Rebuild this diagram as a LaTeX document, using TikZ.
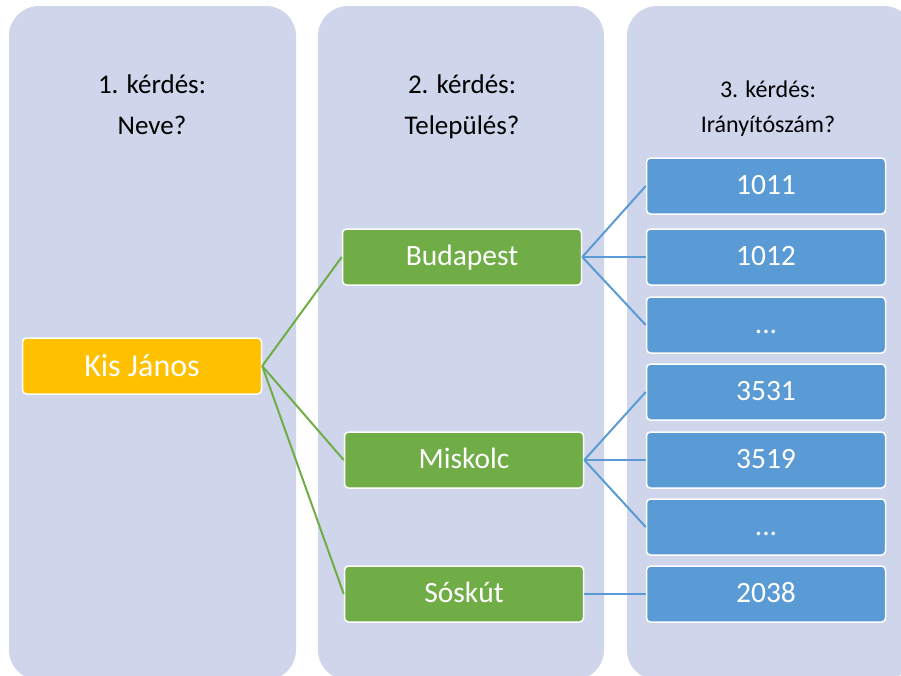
\documentclass[tikz,border=0pt]{standalone}
\usepackage{fontspec}
\setmainfont{Carlito}
\definecolor{colbg}{RGB}{207,213,234}
\definecolor{namecol}{RGB}{255,192,0}
\definecolor{citycol}{RGB}{112,173,71}
\definecolor{zipcol}{RGB}{91,155,213}

\begin{document}
\begin{tikzpicture}[x=1pt,y=-1pt,
  column/.style={fill=colbg,rounded corners=30pt},
  question/.style={anchor=base,inner sep=0pt,font=\fontsize{27}{32}\selectfont},
  smallquestion/.style={question,font=\fontsize{24}{28}\selectfont},
  box/.style={draw=white,line width=1.5pt,rounded corners=4pt,minimum width=239pt,minimum height=56pt,
    text=white,text height=20pt,text depth=4pt,font=\fontsize{29.5}{34}\selectfont},
  personbox/.style={box,fill=namecol,text height=24pt,font=\fontsize{32}{36}\selectfont},
  citybox/.style={box,fill=citycol},
  zipbox/.style={box,fill=zipcol},
  tocity/.style={citycol,line width=2pt},
  tozip/.style={zipcol,line width=2pt}]
\useasboundingbox (0,0) rectangle (901,675);
\clip (0,0) rectangle (901,675);

\fill[column] (9,6) rectangle (296,680);
\fill[column] (318,6) rectangle (604,680);
\fill[column] (627,6) rectangle (914,680);

\node[question] at (152,93) (q1a) {1. kérdés:};
\node[question] at (152,134) (q1b) {Neve?};
\node[question] at (462,93) (q2a) {2. kérdés:};
\node[question] at (462,134) (q2b) {Település?};
\node[smallquestion] at (768,97) (q3a) {3. kérdés:};
\node[smallquestion] at (768,132) (q3b) {Irányítószám?};

\node[personbox] at (142,366) (kis) {Kis János};

\node[citybox] at (462,257) (bud) {Budapest};
\node[citybox] at (464,460) (mis) {Miskolc};
\node[citybox] at (464,594) (sos) {Sóskút};

\node[zipbox] at (766,186) (z1011) {1011};
\node[zipbox] at (766,257) (z1012) {1012};
\node[zipbox] at (766,325) (zbud) {...};
\node[zipbox] at (766,392) (z3531) {3531};
\node[zipbox] at (766,460) (z3519) {3519};
\node[zipbox] at (766,527) (zmis) {...};
\node[zipbox] at (766,594) (z2038) {2038};

\draw[tocity] (kis.east) -- (bud.west);
\draw[tocity] (kis.east) -- (mis.west);
\draw[tocity] (kis.east) -- (sos.west);

\draw[tozip] (bud.east) -- (z1011.west);
\draw[tozip] (bud.east) -- (z1012.west);
\draw[tozip] (bud.east) -- (zbud.west);
\draw[tozip] (mis.east) -- (z3531.west);
\draw[tozip] (mis.east) -- (z3519.west);
\draw[tozip] (mis.east) -- (zmis.west);
\draw[tozip] (sos.east) -- (z2038.west);
\end{tikzpicture}
\end{document}
